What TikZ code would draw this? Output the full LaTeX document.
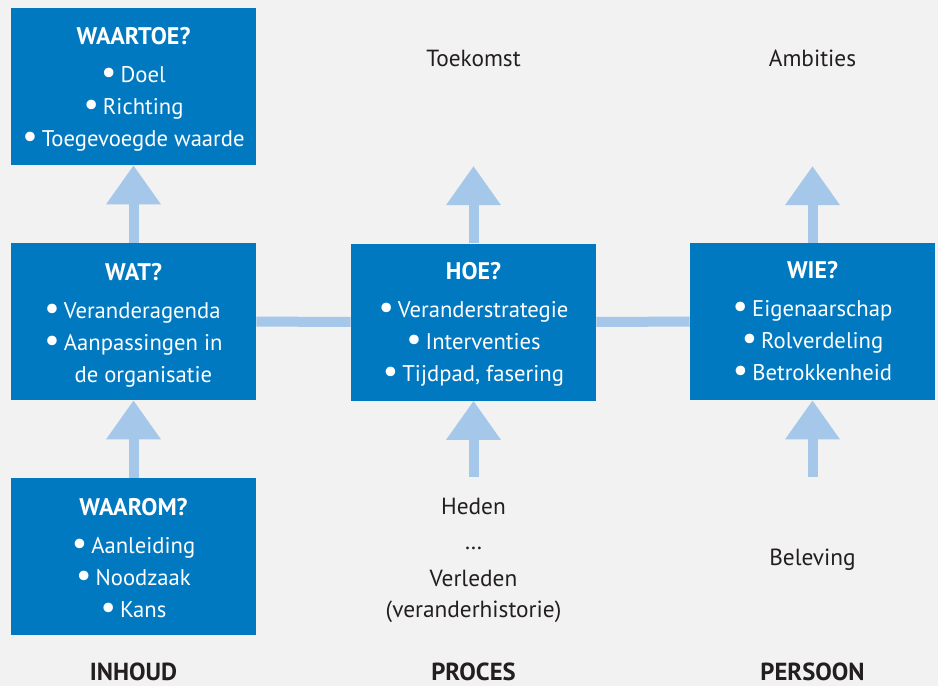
\documentclass[tikz,border=0pt]{standalone}
\usepackage{fontspec}
\usepackage{graphicx}
\setmainfont{PT Sans}
\usetikzlibrary{arrows.meta}
\definecolor{bg}{HTML}{F2F2F2}
\definecolor{boxblue}{HTML}{0079C1}
\definecolor{flow}{HTML}{A5C8EA}
\definecolor{ink}{HTML}{231F20}
% a round, slightly enlarged bullet
\newcommand{\bul}{\raisebox{-0.06em}{\scalebox{1.5}{\textbullet}}\hspace{0.18em}}
% bold heading inside a box
\newcommand{\boxtitle}[1]{{\fontsize{18pt}{24pt}\selectfont\bfseries #1}}
\begin{document}
\begin{tikzpicture}[x=0.75pt,y=-0.75pt,
  box/.style={fill=boxblue, draw=none, minimum width=183.75pt, minimum height=117.75pt, inner sep=0pt},
  boxtext/.style={text=white, align=center, anchor=base, inner sep=0pt,
    font=\fontsize{17pt}{24pt}\selectfont},
  plaintext/.style={text=ink, align=center, anchor=base, inner sep=0pt,
    font=\fontsize{17.5pt}{24pt}\selectfont},
  axistext/.style={plaintext, font=\fontsize{18.5pt}{24pt}\selectfont\bfseries},
  flowline/.style={draw=flow, line width=7.5pt},
  flowarrow/.style={flowline, -{Triangle[width=39pt,length=29.25pt]}},
]
% canvas
\fill[bg] (0,0) rectangle (938,686);
\useasboundingbox (0,0) rectangle (938,686);

% blue boxes
\node[box] (waartoe) at (133.5,86.5) {};
\node[box] (wat)     at (133.5,321.5) {};
\node[box] (waarom)  at (133.5,556.5) {};
\node[box] (hoe)     at (473.5,322) {};
\node[box] (wie)     at (812.5,321.5) {};

% free arrow ends
\coordinate (toekomst-end) at (473.5,166);
\coordinate (ambities-end) at (812.5,166);
\coordinate (heden-start)  at (473.5,477);
\coordinate (beleving-start) at (812.5,477);

% connectors
\draw[flowline] (wat) -- (hoe);
\draw[flowline] (hoe) -- (wie);
\draw[flowarrow] (wat) -- (waartoe);
\draw[flowarrow] (waarom) -- (wat);
\draw[flowarrow] (hoe) -- (toekomst-end);
\draw[flowarrow] (heden-start) -- (hoe);
\draw[flowarrow] (wie) -- (ambities-end);
\draw[flowarrow] (beleving-start) -- (wie);

% box contents (anchored at the baseline of the last line)
\node[boxtext] (waartoe-t) at (133.5,146.5) {\boxtitle{WAARTOE?}\\[4.5pt]
  \bul Doel\\ \bul Richting\\ \bul Toegevoegde waarde};
\node[boxtext] (wat-t) at (133.5,318.5) {\boxtitle{WAT?}\\[4.5pt]
  \begin{tabular}[t]{@{}l@{}}\bul Veranderagenda\\ \bul Aanpassingen in\\
  \hphantom{\bul}\hspace{8pt}de organisatie\end{tabular}};
\node[boxtext] (waarom-t) at (133.5,617) {\boxtitle{WAAROM?}\\[4.5pt]
  \bul Aanleiding\\ \bul Noodzaak\\ \bul Kans};
\node[boxtext] (hoe-t) at (473.5,381.5) {\boxtitle{HOE?}\\[4.5pt]
  \bul Veranderstrategie\\ \bul Interventies\\ \bul Tijdpad, fasering};
\node[boxtext] (wie-t) at (812.5,380) {\boxtitle{WIE?}\\[4.5pt]
  \bul Eigenaarschap\\ \bul Rolverdeling\\ \bul Betrokkenheid};

% free texts
\node[plaintext] (toekomst) at (473.5,66) {Toekomst};
\node[plaintext] (ambities) at (812.5,66) {Ambities};
\node[plaintext] (heden) at (473.5,617) {Heden\\[2pt]\ldots\\[4pt]Verleden\\[-1pt](veranderhistorie)};
\node[plaintext] (beleving) at (812.5,565) {Beleving};

% column captions
\node[axistext] (inhoud)  at (133.5,680) {INHOUD};
\node[axistext] (proces)  at (473.5,680) {PROCES};
\node[axistext] (persoon) at (812.5,680) {PERSOON};
\end{tikzpicture}
\end{document}
